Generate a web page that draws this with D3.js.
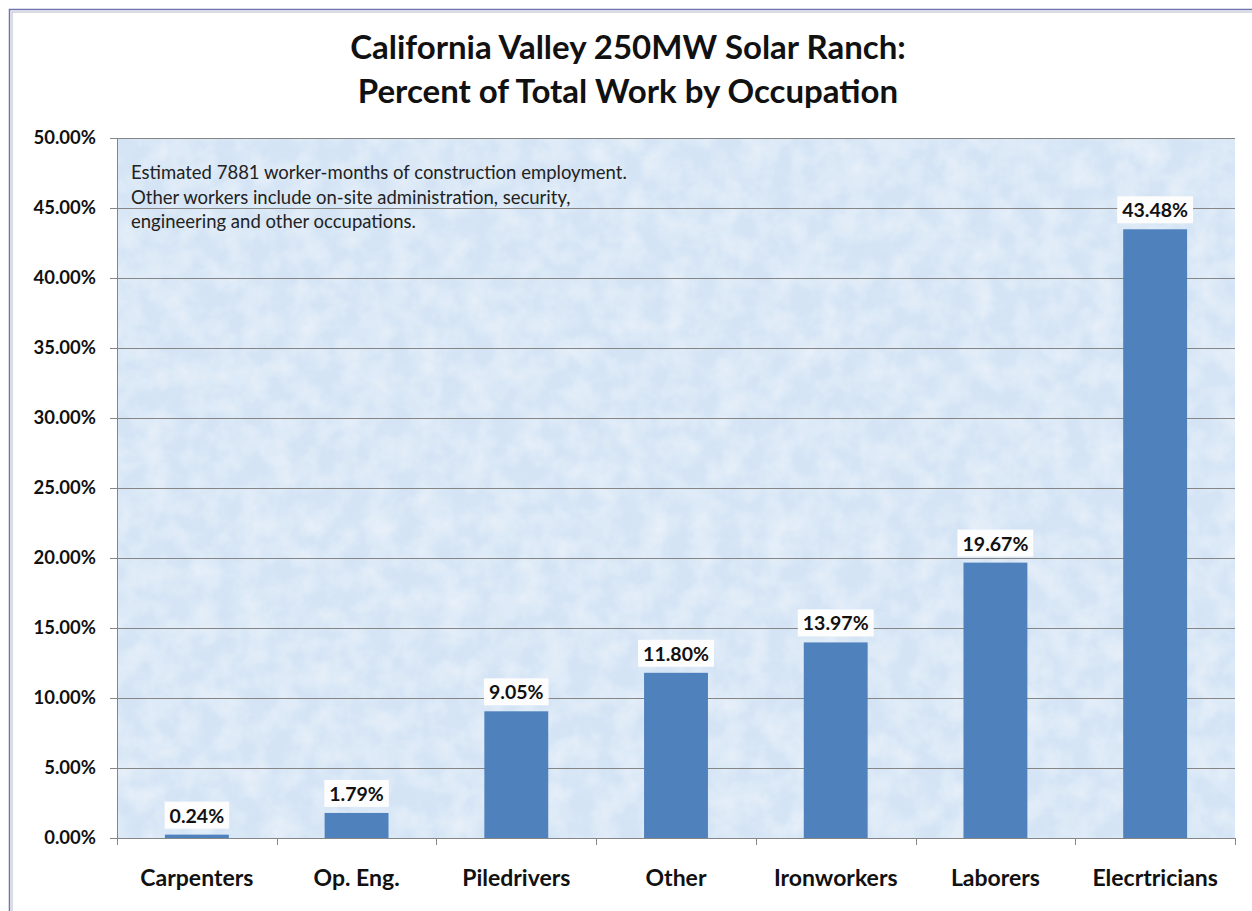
<!DOCTYPE html>
<html>
<head>
<meta charset="utf-8">
<script src="https://cdn.jsdelivr.net/npm/d3@7"></script>
<style>
  body { margin: 0; background: #fff; }
  svg { display: block; }
</style>
</head>
<body>
<div id="chart"></div>
<script>
// data
var occupations = ["Carpenters", "Op. Eng.", "Piledrivers", "Other", "Ironworkers", "Laborers", "Elecrtricians"];
var shares = [0.24, 1.79, 9.05, 11.80, 13.97, 19.67, 43.48];
var yTicks = [0, 5, 10, 15, 20, 25, 30, 35, 40, 45, 50];
var titleLines = ["California Valley 250MW Solar Ranch:", "Percent of Total Work by Occupation"];
var noteLines = [
  "Estimated 7881  worker-months of construction employment.",
  "Other workers include on-site administration, security,",
  "engineering and other occupations."
];

var W = 1252, H = 911;
var margin = {top: 138, right: 17, bottom: 73, left: 117},
  width = W - margin.left - margin.right,
  height = H - margin.top - margin.bottom;

var font = "Lato, 'Open Sans', sans-serif";

var svg = d3.select("#chart")
  .append("svg")
    .attr("width", W)
    .attr("height", H);

// texture for the plot background
var defs = svg.append("defs");
var filt = defs.append("filter").attr("id", "paper")
  .attr("x", 0).attr("y", 0).attr("width", "100%").attr("height", "100%");
filt.append("feTurbulence")
  .attr("type", "fractalNoise")
  .attr("baseFrequency", 0.04)
  .attr("numOctaves", 4)
  .attr("seed", 4)
  .attr("result", "noise");
filt.append("feColorMatrix")
  .attr("in", "noise")
  .attr("type", "matrix")
  .attr("values", "0 0 0 0 1  0 0 0 0 1  0 0 0 0 1  0 0 0 0.7 -0.22")
  .attr("result", "spots");
filt.append("feComposite").attr("in", "spots").attr("in2", "SourceGraphic").attr("operator", "in").attr("result", "sp");
filt.append("feMerge").call(function(m) {
  m.append("feMergeNode").attr("in", "SourceGraphic");
  m.append("feMergeNode").attr("in", "sp");
});

// outer frame (left + top visible)
svg.append("rect")
  .attr("x", 9.5).attr("y", 9.5)
  .attr("width", W + 20).attr("height", H + 20)
  .attr("fill", "none")
  .attr("stroke", "#6f74b0")
  .attr("stroke-width", 1.5);
svg.append("rect")
  .attr("x", 12).attr("y", 12)
  .attr("width", W + 20).attr("height", H + 20)
  .attr("fill", "none")
  .attr("stroke", "#b8b8c8")
  .attr("stroke-width", 1);

// title
svg.append("text")
  .attr("x", 628)
  .attr("text-anchor", "middle")
  .style("font-family", font)
  .style("font-weight", "bold")
  .style("font-size", "33px")
  .style("fill", "#111")
  .selectAll("tspan")
  .data(titleLines)
  .enter()
  .append("tspan")
    .attr("x", 628)
    .attr("y", function(d, i) { return 59 + i * 44; })
    .text(function(d) { return d; });

var g = svg.append("g")
  .attr("transform", "translate(" + margin.left + "," + margin.top + ")");

var x = d3.scaleBand()
  .domain(occupations)
  .range([0, width])
  .paddingInner(0.6)
  .paddingOuter(0.3);

var y = d3.scaleLinear()
  .domain([0, 50])
  .range([height, 0]);

// plot background
g.append("rect")
  .attr("width", width)
  .attr("height", height)
  .attr("fill", "#d4e4f5")
  .attr("filter", "url(#paper)");

// gridlines
g.append("g")
  .selectAll("line")
  .data(yTicks.slice(1))
  .enter()
  .append("line")
    .attr("x1", 0)
    .attr("x2", width)
    .attr("y1", function(d) { return y(d) + 0.5; })
    .attr("y2", function(d) { return y(d) + 0.5; })
    .attr("stroke", "#868686")
    .attr("stroke-width", 1);

// y axis
var yAxis = g.append("g")
  .call(d3.axisLeft(y).tickValues(yTicks).tickSize(7).tickPadding(14)
    .tickFormat(function(d) { return d.toFixed(2) + "%"; }));
yAxis.select(".domain").attr("stroke", "#868686");
yAxis.selectAll(".tick line").attr("stroke", "#868686");
yAxis.selectAll("text")
  .style("font-family", font)
  .style("font-weight", "bold")
  .style("font-size", "18.5px")
  .style("fill", "#111");

// x axis with ticks between categories
var xAxis = g.append("g")
  .attr("transform", "translate(0," + height + ")")
  .call(d3.axisBottom(x).tickSize(0).tickPadding(32));
xAxis.select(".domain").attr("stroke", "#868686");
xAxis.selectAll("text")
  .style("font-family", font)
  .style("font-weight", "bold")
  .style("font-size", "23px")
  .style("fill", "#111");
xAxis.selectAll(".sep")
  .data(d3.range(occupations.length + 1))
  .enter()
  .append("line")
    .attr("class", "sep")
    .attr("x1", function(i) { return Math.round(i * width / occupations.length) + 0.5; })
    .attr("x2", function(i) { return Math.round(i * width / occupations.length) + 0.5; })
    .attr("y1", 0)
    .attr("y2", 7)
    .attr("stroke", "#868686");

// bars
g.selectAll(".bar")
  .data(shares)
  .enter()
  .append("rect")
    .attr("class", "bar")
    .attr("x", function(d, i) { return x(occupations[i]); })
    .attr("y", function(d) { return y(d); })
    .attr("width", x.bandwidth())
    .attr("height", function(d) { return height - y(d); })
    .attr("fill", "#4f81bd");

// value labels on white boxes
var labels = g.selectAll(".lab")
  .data(shares)
  .enter()
  .append("g")
    .attr("class", "lab")
    .attr("transform", function(d, i) {
      return "translate(" + (x(occupations[i]) + x.bandwidth() / 2) + "," + (y(d) - 5) + ")";
    });
labels.append("text")
  .attr("y", -7)
  .attr("text-anchor", "middle")
  .style("font-family", font)
  .style("font-weight", "bold")
  .style("font-size", "19.5px")
  .style("fill", "#111")
  .text(function(d) { return d.toFixed(2) + "%"; })
  .each(function() {
    var w = this.getComputedTextLength() + 10;
    d3.select(this.parentNode).insert("rect", "text")
      .attr("x", -w / 2)
      .attr("y", -28)
      .attr("width", w)
      .attr("height", 27)
      .attr("fill", "#fdfdfd");
  });

// note inside plot
g.append("text")
  .style("font-family", font)
  .style("font-size", "18.5px")
  .style("fill", "#222")
  .selectAll("tspan")
  .data(noteLines)
  .enter()
  .append("tspan")
    .attr("x", 14)
    .attr("y", function(d, i) { return 41 + i * 24.5; })
    .text(function(d) { return d; });
</script>
</body>
</html>
